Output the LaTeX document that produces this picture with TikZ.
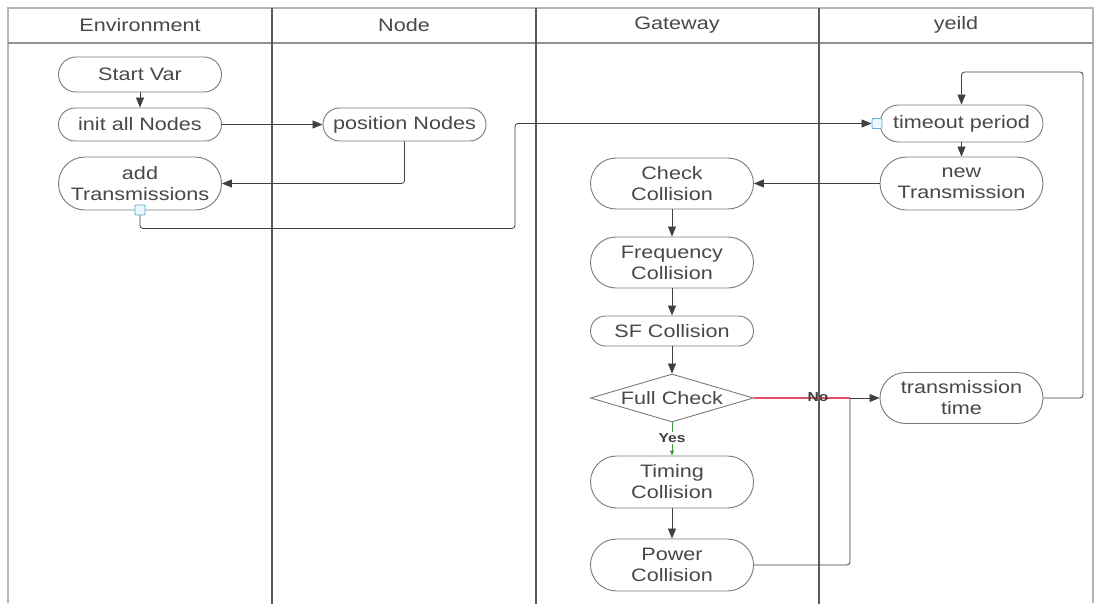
\documentclass[tikz,border=0pt]{standalone}
\usepackage{fontspec}
\setmainfont{Liberation Sans}[FakeStretch=1.2]
\usetikzlibrary{arrows.meta,shapes.geometric}
\definecolor{txt}{HTML}{484848}
\definecolor{edge}{HTML}{7A7A7A}
\definecolor{lane}{HTML}{5A5A5A}
\definecolor{frame}{HTML}{B5B5B5}
\definecolor{flow}{HTML}{404040}
\definecolor{nored}{HTML}{E0506A}
\definecolor{yesgreen}{HTML}{3C9A3C}
\definecolor{portblue}{HTML}{5AB0D8}
\definecolor{portfill}{HTML}{EAF7FC}
\tikzset{
  act/.style={draw=edge, line width=0.9pt, text=txt, minimum width=163pt,
    minimum height=#1, rounded corners=#1/2, inner sep=0pt, align=center,
    font=\fontsize{18}{21}\selectfont},
  act/.default=35pt,
  decide/.style={draw=edge, line width=0.9pt, text=txt, diamond, aspect=3.4,
    minimum width=163pt, minimum height=48pt, inner sep=0pt,
    font=\fontsize{18}{21}\selectfont},
  port/.style={draw=portblue, fill=portfill, line width=0.9pt,
    minimum size=10pt, inner sep=0pt, rounded corners=1pt},
  flowline/.style={draw=flow, line width=0.8pt, rounded corners=3pt,
    -{Triangle[length=10pt,width=8pt]}},
  plainline/.style={draw=flow, line width=0.8pt, rounded corners=3pt},
  head/.style={text=txt, font=\fontsize{18}{21}\selectfont},
  cond/.style={text=flow, font=\bfseries\fontsize{13}{15}\selectfont, inner sep=1pt}
}
\begin{document}
\begin{tikzpicture}[x=1pt,y=-1pt]
\useasboundingbox (0,0) rectangle (1097,604);
\fill[white] (0,0) rectangle (1097,604);

% pool frame and lanes
\draw[frame, line width=1.2pt] (8,603) -- (8,8) -- (1093,8) -- (1093,603);
\draw[frame!80!black, line width=1.6pt] (8,43) -- (1093,43);
\draw[lane, line width=1.6pt] (272,8) -- (272,604);
\draw[lane, line width=1.6pt] (536,8) -- (536,604);
\draw[lane, line width=1.6pt] (819,8) -- (819,604);

% lane titles
\node[head] (hEnv) at (140,25) {Environment};
\node[head] (hNode) at (404,25) {Node};
\node[head] (hGw) at (677,25) {Gateway};
\node[head] (hYd) at (956,25) {yeild};

% Environment lane
\node[act] (start) at (140,74.5) {Start Var};
\node[act=33pt] (init) at (140,124.5) {init all Nodes};
\node[act=53pt] (addT) at (140,183.5) {add\\Transmissions};

% Node lane
\node[act=33pt] (pos) at (404.5,124.5) {position Nodes};

% Gateway lane
\node[act=51pt] (check) at (672,183.5) {Check\\Collision};
\node[act=51pt] (freq) at (672,262.5) {Frequency\\Collision};
\node[act=30pt] (sf) at (672,331) {SF Collision};
\node[decide] (full) at (672,398) {Full Check};
\node[act=52pt] (timing) at (672,482) {Timing\\Collision};
\node[act=52pt] (power) at (672,565) {Power\\Collision};

% yeild lane
\node[act=37pt] (timeout) at (961.5,123.5) {timeout period};
\node[act=53pt] (newT) at (961.5,183.5) {new\\Transmission};
\node[act=51pt] (trans) at (961.5,398) {transmission\\time};

% ports
\node[port] (pOut) at (140,210) {};
\node[port] (pIn) at (877,123.5) {};

% helper points
\coordinate (join) at (850,398);
\coordinate (loopTop) at (1083,72);

% connectors
\draw[flowline] (start) -- (init);
\draw[flowline] (init) -- (pos);
\draw[flowline] (pos.south) |- (addT.east);
\draw[flowline] (pOut.south) -- ++(0,13) -| (515,123.5) -- (pIn.west);
\draw[flowline] (timeout) -- (newT);
\draw[flowline] (newT) -- (check);
\draw[flowline] (check) -- (freq);
\draw[flowline] (freq) -- (sf);
\draw[flowline] (sf) -- (full);
\draw[nored, line width=1.6pt] (full.east) -- (join);
\node[cond] (no) at (818,397) {No};
\draw[flowline] (join) -- (trans.west);
\draw[plainline] (power.east) -| (join);
\draw[yesgreen, line width=0.7pt, -{Triangle[length=5pt,width=4pt]}] (full.south) -- (timing.north);
\node[cond, fill=white] (yes) at (672,438) {Yes};
\draw[flowline] (timing) -- (power);
\draw[flowline] (trans.east) -| (loopTop) -| (timeout.north);
\end{tikzpicture}
\end{document}
